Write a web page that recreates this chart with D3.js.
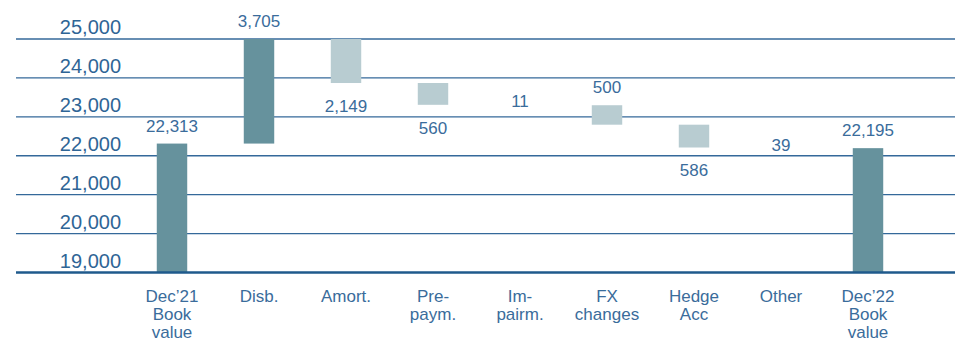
<!DOCTYPE html>
<html>
<head>
<meta charset="utf-8">
<script src="https://cdn.jsdelivr.net/npm/d3@7"></script>
<style>
  html, body { margin: 0; padding: 0; background: #ffffff; }
  svg { display: block; font-family: "Liberation Sans", Arial, sans-serif; }
</style>
</head>
<body>
<svg id="chart" width="955" height="341"></svg>
<script>
// Loan book bridge, Dec'21 to Dec'22 (EUR m)
const categories = [
  ["Dec\u201921", "Book", "value"],
  ["Disb."],
  ["Amort."],
  ["Pre-", "paym."],
  ["Im-", "pairm."],
  ["FX", "changes"],
  ["Hedge", "Acc"],
  ["Other"],
  ["Dec\u201922", "Book", "value"]
];
// Signed movements; the first and last entries are the book values (totals)
const kinds  = ["total", "delta", "delta", "delta", "delta", "delta", "delta", "delta", "total"];
const values = [22313, 3705, -2149, -560, -11, -500, -586, -39, 22195];
const valueLabels = ["22,313", "3,705", "2,149", "560", "11", "500", "586", "39", "22,195"];
const yTicks = [19000, 20000, 21000, 22000, 23000, 24000, 25000];

// label placement relative to each bar
const labelSide = ["top", "top", "bottom", "bottom", "mid", "top", "bottom", "mid", "top"];

const svg = d3.select("#chart");
const W = 955;
const yMin = 19000, yMax = 25000;
// movements below this size are shown by their label only
const minShown = 100;

const x = d3.scaleBand()
  .domain(d3.range(categories.length))
  .range([128.5, 911.5])
  .paddingInner(0.65)
  .paddingOuter(0.325);

const y = d3.scaleLinear().domain([yMin, yMax]).range([272.5, 39]);
const yc = v => y(Math.max(yMin, Math.min(yMax, v)));

// running totals for the floating bars
let run = 0;
const bars = values.map((v, i) => {
  let lo, hi;
  if (kinds[i] === "total") { lo = yMin; hi = v; run = v; }
  else { const s = run; run = s + v; lo = Math.min(s, run); hi = Math.max(s, run); }
  return { i, v, lo, hi, kind: kinds[i] };
});

// gridlines and tick labels
const grid = svg.append("g");
grid.selectAll("line").data(yTicks.filter(t => t !== yMin)).join("line")
  .attr("x1", 16).attr("x2", W)
  .attr("y1", d => y(d)).attr("y2", d => y(d))
  .attr("stroke", "#34699a").attr("stroke-width", 1.3);

grid.selectAll("text").data(yTicks).join("text")
  .attr("x", 121).attr("y", d => y(d) - 5)
  .attr("text-anchor", "end")
  .attr("font-size", 20)
  .attr("fill", "#2f6596")
  .text(d => d3.format(",")(d));

// bars
svg.append("g").selectAll("rect").data(bars).join("rect")
  .attr("x", d => x(d.i))
  .attr("width", x.bandwidth())
  .attr("y", d => yc(d.hi))
  .attr("height", d => Math.max(0, yc(d.lo) - yc(d.hi)))
  .attr("fill", d => d.kind === "total" || d.v > 0 ? "#66929d" : "#b8ccd1")
  .attr("fill-opacity", d => d.kind === "delta" && Math.abs(d.v) < minShown ? 0 : 1);

// baseline axis
svg.append("line")
  .attr("x1", 16).attr("x2", W)
  .attr("y1", y(yMin)).attr("y2", y(yMin))
  .attr("stroke", "#1f5a8c").attr("stroke-width", 2.6);

// value labels
svg.append("g").selectAll("text").data(bars).join("text")
  .attr("x", d => x(d.i) + x.bandwidth() / 2)
  .attr("y", d => {
    const side = labelSide[d.i];
    if (side === "top") return yc(d.hi) - 12;
    if (side === "bottom") return yc(d.lo) + 29;
    return yc(d.lo) + 2;
  })
  .attr("text-anchor", "middle")
  .attr("font-size", 17)
  .attr("fill", "#3a6c9b")
  .text(d => valueLabels[d.i]);

// category labels
const cat = svg.append("g").selectAll("text").data(categories).join("text")
  .attr("x", (d, i) => x(i) + x.bandwidth() / 2)
  .attr("y", 302)
  .attr("text-anchor", "middle")
  .attr("font-size", 17)
  .attr("fill", "#3a6c9b");
cat.selectAll("tspan").data(d => d).join("tspan")
  .attr("x", function () { return d3.select(this.parentNode).attr("x"); })
  .attr("dy", (d, j) => j === 0 ? 0 : 17.8)
  .text(d => d);
</script>
</body>
</html>
